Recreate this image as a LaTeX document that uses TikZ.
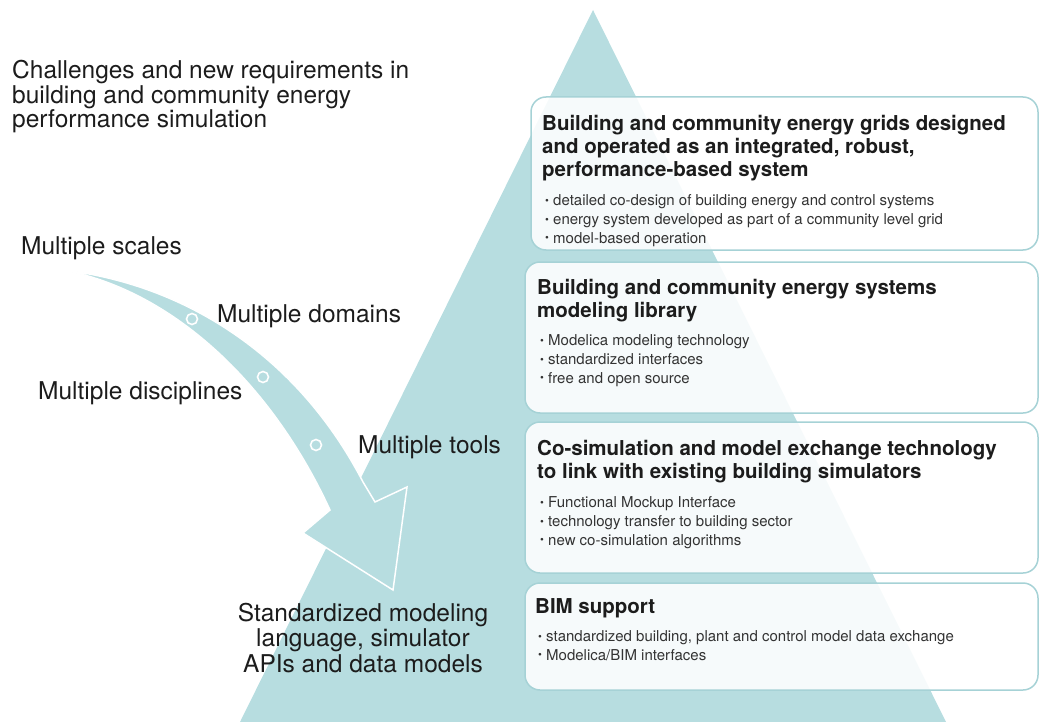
\documentclass[tikz,border=0pt]{standalone}
\usepackage{fontspec}
\setmainfont{TeX Gyre Heros}
\definecolor{teal1}{HTML}{B7DDE0}
\definecolor{tealedge}{HTML}{A6D2D6}
\definecolor{ink}{HTML}{1C1C1C}
\definecolor{ink2}{HTML}{333333}
\newcommand{\lab}{\fontsize{24.5}{24.5}\selectfont}
\newcommand{\ttl}{\fontsize{20.5}{23}\selectfont\bfseries}
\newcommand{\bul}{\fontsize{15}{18.8}\selectfont}
\newcommand{\bdot}{\makebox[8pt][l]{\fontsize{11}{11}\selectfont\raisebox{0.2ex}{\textbullet}}}
\begin{document}
\begin{tikzpicture}[x=1pt,y=-1pt,
  label/.style={inner sep=0pt,anchor=base west,text=ink,font=\lab},
  card/.style={draw=tealedge,line width=1.5pt,fill=white,fill opacity=0.88,rounded corners=15pt},
  cardtitle/.style={inner sep=0pt,anchor=base west,text=ink,align=left,font=\ttl},
  cardlist/.style={inner sep=0pt,anchor=base west,text=ink2,align=left,font=\bul},
  ring/.style={circle,draw=white,line width=1.6pt,fill=teal1,inner sep=0pt,minimum size=11pt}]
\useasboundingbox (0,0) rectangle (1041,722);
\clip (0,0) rectangle (1041,722);

% pyramid
\fill[teal1] (593,10) -- (946,722) -- (240,722) -- cycle;

% curved arrow converging on the base of the pyramid
\filldraw[fill=teal1,draw=white,line width=1.5pt,line join=miter]
  (63,270) .. controls (190,285) and (300,360) .. (363,482)
  -- (375,502) -- (407,487) -- (393,590) -- (303,533) -- (330,510)
  .. controls (270,380) and (170,290) .. (63,270)
  -- cycle;
\node[ring] (r1) at (192,319) {};
\node[ring] (r2) at (263,377) {};
\node[ring] (r3) at (316,445) {};

% left-hand labels (base anchor = last line)
\node[label,align=left] (head) at (12,128) {Challenges and new requirements in\\building and community energy\\performance simulation};
\node[label] (scales) at (21,254) {Multiple scales};
\node[label] (domains) at (217,322) {Multiple domains};
\node[label] (disc) at (38,399) {Multiple disciplines};
\node[label] (tools) at (358,453) {Multiple tools};
\node[inner sep=0pt,anchor=base,text=ink,align=center,font=\fontsize{24.5}{25.5}\selectfont] (std) at (363,672)
  {Standardized modeling\\language, simulator\\APIs and data models};

% cards
\draw[card] (531,97) rectangle (1038,250);
\draw[card] (525,262) rectangle (1038,413);
\draw[card] (525,422) rectangle (1038,573);
\draw[card] (525,583) rectangle (1038,690);

\node[cardtitle] (t1) at (542,177) {Building and community energy grids designed\\and operated as an integrated, robust,\\performance-based system};
\node[cardlist] (l1) at (545,243) {\bdot detailed co-design of building energy and control systems\\\bdot energy system developed as part of a community level grid\\\bdot model-based operation};

\node[cardtitle] (t2) at (537,317) {Building and community energy systems\\modeling library};
\node[cardlist] (l2) at (540,383) {\bdot Modelica modeling technology\\\bdot standardized interfaces\\\bdot free and open source};

\node[cardtitle] (t3) at (537,478) {Co-simulation and model exchange technology\\to link with existing building simulators};
\node[cardlist] (l3) at (540,545) {\bdot Functional Mockup Interface\\\bdot technology transfer to building sector\\\bdot new co-simulation algorithms};

\node[cardtitle] (t4) at (535,613) {BIM support};
\node[cardlist] (l4) at (538,660) {\bdot standardized building, plant and control model data exchange\\\bdot Modelica/BIM interfaces};
\end{tikzpicture}
\end{document}
